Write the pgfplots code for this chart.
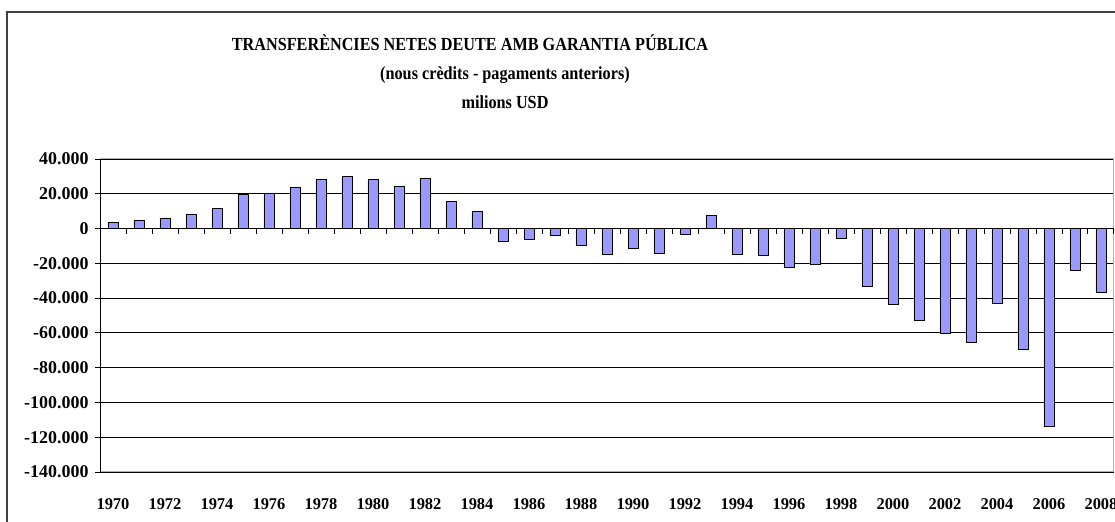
\documentclass[border=0pt]{standalone}
\usepackage{fontspec}
\setmainfont{Liberation Serif}
\newfontfamily\titlefont[FakeStretch=0.88]{Liberation Serif}
\usepackage{pgfplots}
\pgfplotsset{compat=1.18}
\usepackage{pgfplotstable}
\definecolor{barblue}{RGB}{153,153,255}
\definecolor{framegray}{RGB}{64,64,64}

\pgfplotstableread{
year value
1970 3400
1971 4800
1972 6100
1973 8200
1974 11400
1975 19600
1976 20400
1977 23400
1978 28000
1979 30100
1980 28000
1981 24000
1982 28600
1983 15400
1984 9700
1985 -7200
1986 -6500
1987 -4000
1988 -9700
1989 -15000
1990 -11200
1991 -14500
1992 -3200
1993 7400
1994 -15000
1995 -15600
1996 -22300
1997 -20400
1998 -5900
1999 -33500
2000 -43400
2001 -52800
2002 -60200
2003 -65500
2004 -43000
2005 -69500
2006 -113500
2007 -23800
2008 -37000
}\transfers

\begin{document}
\begin{tikzpicture}
  \useasboundingbox (0,0) rectangle (1115bp,522bp);
  \clip (0,0) rectangle (1115bp,522bp);
  % chart frame (cut off at the right and bottom)
  \draw[framegray, line width=2bp] (7bp,-10bp) -- (7bp,510bp) -- (1130bp,510bp);

  % titles
  \node[anchor=base, font=\titlefont\fontsize{18.5}{20}\selectfont\bfseries] at (470bp,471bp) {TRANSFERÈNCIES NETES DEUTE AMB GARANTIA PÚBLICA};
  \node[anchor=base, font=\titlefont\fontsize{18.5}{20}\selectfont\bfseries] at (505bp,442bp) {(nous crèdits - pagaments anteriors)};
  \node[anchor=base, font=\titlefont\fontsize{18.5}{20}\selectfont\bfseries] at (505bp,413bp) {milions USD};

  \begin{axis}[
    at={(100bp,50bp)}, anchor=south west,
    scale only axis, width=1014bp, height=313bp,
    xmin=1969.5, xmax=2008.5,
    ymin=-140000, ymax=40000,
    ybar, bar width=10bp,
    axis line style={gray!60, line width=1bp},
    ymajorgrids, grid style={black, line width=0.8bp},
    ytick={-140000,-120000,...,40000},
    yticklabels={-140.000,-120.000,-100.000,-80.000,-60.000,-40.000,-20.000,0,20.000,40.000},
    scaled y ticks=false,
    x tick label style={font=\fontsize{16.5}{18}\selectfont\bfseries, anchor=base, yshift=-33bp},
    y tick label style={font=\fontsize{18}{20}\selectfont\bfseries, anchor=east, xshift=-8bp},
    xtick={1970,1972,...,2008},
    xticklabels={1970,1972,1974,1976,1978,1980,1982,1984,1986,1988,1990,1992,1994,1996,1998,2000,2002,2004,2006,2008},
    tick style={draw=none},
  ]
    \addplot[fill=barblue, draw=black, line width=0.8bp] table[x=year, y=value] {\transfers};
  \end{axis}

  % category axis at zero with boundary ticks, black value axis
  \begin{axis}[
    at={(100bp,50bp)}, anchor=south west,
    scale only axis, width=1014bp, height=313bp,
    xmin=1969.5, xmax=2008.5,
    ymin=-140000, ymax=40000,
    scaled y ticks=false, scaled x ticks=false,
    axis x line=middle, axis y line=left,
    axis line style={black, line width=1bp, -},
    xtick={1970.5,1971.5,...,2008.5},
    ytick={-140000,-120000,...,40000},
    xticklabels={}, yticklabels={},
    tick align=outside,
    major tick length=5bp,
    tick style={black, line width=0.8bp},
  ]
  \end{axis}
\end{tikzpicture}
\end{document}
